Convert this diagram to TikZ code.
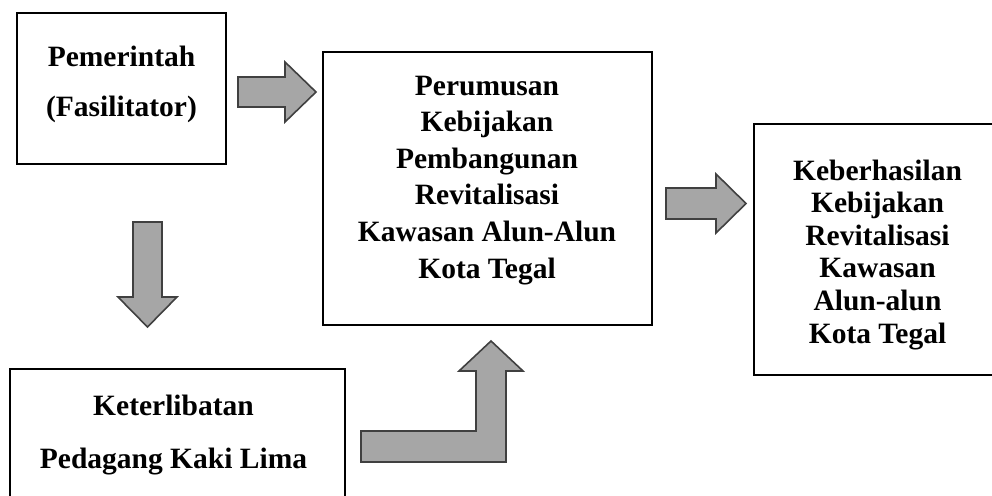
\documentclass[tikz,border=0pt]{standalone}
\usepackage{fontspec}
\setmainfont{Liberation Serif}
\begin{document}
\begin{tikzpicture}[x=1pt,y=-1pt,
  box/.style={draw=black,line width=2pt,inner sep=0pt,outer sep=0pt,fill=white},
  txt/.style={anchor=base,inner sep=0pt,font=\fontsize{29.5}{36}\selectfont\bfseries},
  blockarrow/.style={draw=arrowborder,fill=arrowfill,line width=1.6pt,line join=miter}]
\definecolor{arrowfill}{HTML}{A6A6A6}
\definecolor{arrowborder}{HTML}{404040}
\useasboundingbox (0,0) rectangle (992,495);
\clip (0,0) rectangle (992,495);
\fill[white] (0,0) rectangle (992,495);

% boxes
\node[box,minimum width=209pt,minimum height=151pt] (b1) at (121.5,88.5) {};
\node[box,minimum width=329pt,minimum height=273pt] (b2) at (487.5,188.5) {};
\node[box,minimum width=280pt,minimum height=251pt] (b3) at (894,249.5) {};
\node[box,minimum width=335pt,minimum height=170pt] (b4) at (177.5,454) {};

% texts
\node[txt] (t1a) at (121.5,66.7) {Pemerintah};
\node[txt] (t1b) at (121.5,116) {(Fasilitator)};

\node[txt] (t2a) at (487,95) {Perumusan};
\node[txt] (t2b) at (487,131.6) {Kebijakan};
\node[txt] (t2c) at (487,168.2) {Pembangunan};
\node[txt] (t2d) at (487,204.8) {Revitalisasi};
\node[txt] (t2e) at (487,241.4) {Kawasan Alun-Alun};
\node[txt] (t2f) at (487,278) {Kota Tegal};

\node[txt] (t3a) at (877.5,180) {Keberhasilan};
\node[txt] (t3b) at (877.5,212.6) {Kebijakan};
\node[txt] (t3c) at (877.5,245.2) {Revitalisasi};
\node[txt] (t3d) at (877.5,277.8) {Kawasan};
\node[txt] (t3e) at (877.5,310.4) {Alun-alun};
\node[txt] (t3f) at (877.5,343) {Kota Tegal};

\node[txt] (t4a) at (173.5,415) {Keterlibatan};
\node[txt] (t4b) at (173.5,468) {Pedagang Kaki Lima};

% block arrows
\draw[blockarrow] (238,77) -- (285,77) -- (285,62) -- (316,92) -- (285,122) -- (285,107) -- (238,107) -- cycle;
\draw[blockarrow] (666,188) -- (716,188) -- (716,174) -- (746,203.5) -- (716,233) -- (716,219) -- (666,219) -- cycle;
\draw[blockarrow] (133,222) -- (162,222) -- (162,297) -- (177,297) -- (147.5,327) -- (118,297) -- (133,297) -- cycle;
\draw[blockarrow] (361,431) -- (476,431) -- (476,371) -- (459,371) -- (491,341) -- (523,371) -- (506,371) -- (506,462) -- (361,462) -- cycle;
\end{tikzpicture}
\end{document}
